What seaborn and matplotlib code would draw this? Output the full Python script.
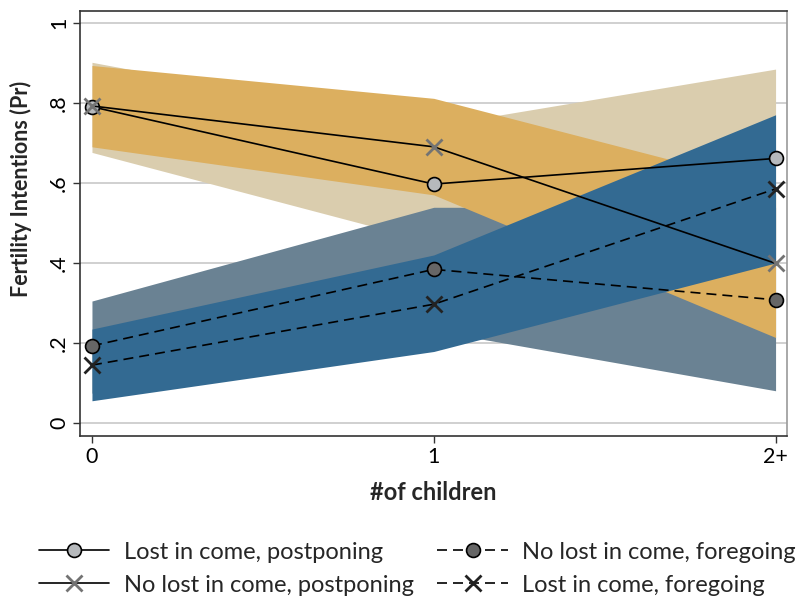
import numpy as np
import pandas as pd
import seaborn as sns
import matplotlib
matplotlib.use('Agg')
import matplotlib.pyplot as plt

# x positions and tick labels
children = [0, 1, 2]
child_labels = ['0', '1', '2+']

# predicted probabilities
lost_post = [0.790, 0.597, 0.661]
nolost_post = [0.792, 0.690, 0.399]
nolost_fore = [0.193, 0.384, 0.308]
lost_fore = [0.145, 0.297, 0.585]

# confidence intervals (lower, upper)
lost_post_lo = [0.676, 0.451, 0.437]
lost_post_hi = [0.901, 0.742, 0.884]
nolost_post_lo = [0.690, 0.570, 0.214]
nolost_post_hi = [0.893, 0.811, 0.590]
nolost_fore_lo = [0.075, 0.231, 0.081]
nolost_fore_hi = [0.305, 0.539, 0.539]
lost_fore_lo = [0.056, 0.179, 0.400]
lost_fore_hi = [0.235, 0.420, 0.770]

labels = ['Lost in come, postponing', 'No lost in come, postponing',
          'No lost in come, foregoing', 'Lost in come, foregoing']

sns.set_theme(style='white')
plt.rcParams['font.family'] = ['Lato', 'DejaVu Sans']

fig = plt.figure(figsize=(7.96, 5.99), dpi=100)
ax = fig.add_axes([0.1005, 0.2721, 0.888, 0.7095])

# bands (draw order matters)
ax.fill_between(children, lost_post_lo, lost_post_hi, color='#dacdae', lw=0, zorder=1)
ax.fill_between(children, nolost_fore_lo, nolost_fore_hi, color='#6a8293', lw=0, zorder=2)
ax.fill_between(children, nolost_post_lo, nolost_post_hi, color='#dcaf5f', lw=0, zorder=3)
ax.fill_between(children, lost_fore_lo, lost_fore_hi, color='#336a92', lw=0, zorder=4)

df = pd.DataFrame({'x': children, 'a': lost_post, 'b': nolost_post,
                   'c': nolost_fore, 'd': lost_fore})

dash = (6, 3.6)
sns.lineplot(data=df, x='x', y='a', ax=ax, color='black', lw=1.2, marker='o',
             markersize=10, markerfacecolor='#b6b9bc', markeredgecolor='black',
             markeredgewidth=1.2, label=labels[0], zorder=6)
sns.lineplot(data=df, x='x', y='b', ax=ax, color='black', lw=1.2, marker='x',
             markersize=11, markeredgecolor='#737373', markeredgewidth=2,
             label=labels[1], zorder=6)
sns.lineplot(data=df, x='x', y='c', ax=ax, color='black', lw=1.2, marker='o',
             markersize=10, markerfacecolor='#666666', markeredgecolor='black',
             markeredgewidth=1.2, label=labels[2], zorder=6)
sns.lineplot(data=df, x='x', y='d', ax=ax, color='black', lw=1.2, marker='x',
             markersize=11, markeredgecolor='#222222', markeredgewidth=2,
             label=labels[3], zorder=6)
for ln in ax.lines[2:]:
    ln.set_dashes(dash)

ax.set_xlim(-0.035, 2.033)
ax.set_ylim(-0.032, 1.029)
ax.set_xticks(children)
ax.set_xticklabels(child_labels)
yt = [0, 0.2, 0.4, 0.6, 0.8, 1]
ax.set_yticks(yt)
ax.set_yticklabels(['0', '.2', '.4', '.6', '.8', '1'], rotation=90, va='center')
for v in yt:
    ax.axhline(v, color='#c8c8c8', lw=1.2, zorder=0.5)

ax.tick_params(axis='both', which='both', direction='out', length=5, width=1,
               color='#333333', labelsize=15.5, labelcolor='black', pad=3,
               left=True, bottom=True)
for s in ['left', 'bottom', 'top']:
    ax.spines[s].set_color('#333333')
    ax.spines[s].set_linewidth(1.2)
ax.spines['right'].set_color('#9a9a9a')
ax.spines['right'].set_linewidth(1.2)

ax.set_xlabel('#of children', fontsize=17, fontweight='bold')
ax.xaxis.set_label_coords(0.5, -0.134)
ax.xaxis.label.set_va('center')
ax.set_ylabel('Fertility Intentions (Pr)', fontsize=15.5, fontweight='bold')
ax.yaxis.set_label_coords(-0.0835, 0.581)
ax.yaxis.label.set_va('center')

handles, labs = ax.get_legend_handles_labels()
ax.legend(handles, labs, ncol=2, loc='center', bbox_to_anchor=(0.477, -0.312),
          frameon=False, fontsize=17, handlelength=3.0, columnspacing=1.0,
          labelspacing=0.5, handletextpad=0.6, borderpad=0)

fig.savefig('out.png', dpi=100)
